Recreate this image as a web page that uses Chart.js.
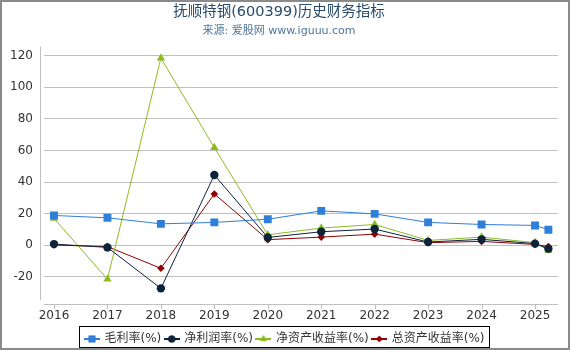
<!DOCTYPE html>
<html><head><meta charset="utf-8">
<script src="https://cdn.jsdelivr.net/npm/chart.js@4/dist/chart.umd.min.js"></script>
<style>html,body{margin:0;padding:0;background:#fff;}canvas{display:block;}</style>
</head><body>
<canvas id="c" width="570" height="350" style="width:570px;height:350px"></canvas>
<script>
const titleText = '抚顺特钢(600399)历史财务指标';
const subtitleText = '来源: 爱股网 www.iguuu.com';
const years = [2016, 2017, 2018, 2019, 2020, 2021, 2022, 2023, 2024, 2025, 2025.25];
const yearTicks = [2016, 2017, 2018, 2019, 2020, 2021, 2022, 2023, 2024, 2025];
const yTicks = [-20, 0, 20, 40, 60, 80, 100, 120];
const seriesNames = ['毛利率(%)', '净利润率(%)', '净资产收益率(%)', '总资产收益率(%)'];
const grossMargin = [18.9, 17.4, 13.6, 14.5, 16.5, 21.8, 19.9, 14.5, 13.2, 12.6, 9.9];
const netMargin = [0.8, -1.3, -27.2, 44.5, 5.0, 8.6, 10.3, 2.1, 3.8, 1.1, -2.1];
const roe = [17.0, -21.4, 118.4, 61.8, 6.7, 10.9, 13.2, 3.1, 5.2, 1.7, -3.1];
const roa = [0.2, -0.8, -14.5, 32.5, 3.6, 5.2, 7.1, 1.7, 2.5, 0.6, -0.8];

const colors = ['#2f7ed8', '#0d233a', '#8bbc21', '#910000'];
const styles = ['rect', 'circle', 'triangle', 'rectRot'];
const radii = [5.6, 4.2, 4.8, 3.8];
const values = [grossMargin, netMargin, roe, roa];

function legendSymbol(i) {
  const cv = document.createElement('canvas');
  cv.width = 16; cv.height = 12;
  const ctx = cv.getContext('2d');
  ctx.strokeStyle = colors[i];
  ctx.lineWidth = 2;
  ctx.beginPath(); ctx.moveTo(0, 6); ctx.lineTo(16, 6); ctx.stroke();
  ctx.fillStyle = colors[i];
  ctx.strokeStyle = colors[i];
  Chart.helpers.drawPoint(ctx, {pointStyle: styles[i], radius: radii[i] * 0.85, rotation: 0, borderWidth: 0}, 8, 6);
  ctx.fill();
  return cv;
}

const datasets = values.map((v, i) => ({
  label: seriesNames[i],
  data: years.map((x, k) => ({x: x, y: v[k]})),
  borderColor: colors[i],
  backgroundColor: colors[i],
  borderWidth: 1,
  pointStyle: styles[i],
  pointRadius: radii[i],
  pointBorderWidth: 0,
  pointHoverRadius: radii[i],
  tension: 0,
  fill: false
}));

const decor = {
  id: 'decor',
  afterLayout(chart) {
    const lg = chart.legend;
    const h = lg.bottom - lg.top;
    lg.top = 329; lg.bottom = 329 + h;
    lg.left += 6; lg.right += 6;
  },
  beforeDatasetsDraw(chart) {
    const ctx = chart.ctx;
    const a = chart.chartArea;
    const xs = chart.scales.x;
    ctx.save();
    ctx.strokeStyle = '#c0c0c0';
    ctx.lineWidth = 1;
    ctx.beginPath();
    ctx.moveTo(40.5, a.top); ctx.lineTo(40.5, a.bottom);
    ctx.moveTo(a.left, a.bottom + 4.5); ctx.lineTo(a.right, a.bottom + 4.5);
    yearTicks.forEach(t => {
      const px = Math.round(xs.getPixelForValue(t)) + 0.5;
      ctx.moveTo(px, a.bottom + 4); ctx.lineTo(px, a.bottom + 9);
    });
    ctx.stroke();
    ctx.restore();
  },
  afterDraw(chart) {
    const ctx = chart.ctx;
    const lg = chart.legend;
    const boxes = lg.legendHitBoxes;
    ctx.save();
    if (boxes && boxes.length) {
      let l = Infinity, r = -Infinity;
      boxes.forEach(b => { l = Math.min(l, b.left); r = Math.max(r, b.left + b.width); });
      ctx.strokeStyle = '#000';
      ctx.lineWidth = 1;
      ctx.strokeRect(Math.round(l) - 5.5, 326.5, Math.round(r - l) + 11, 21);
    }
    ctx.strokeStyle = '#8a8a8a';
    ctx.lineWidth = 2;
    ctx.strokeRect(1, 1, 568, 348);
    ctx.restore();
  }
};

new Chart(document.getElementById('c'), {
  type: 'line',
  data: {datasets: datasets},
  options: {
    responsive: false,
    devicePixelRatio: 1,
    animation: false,
    layout: {padding: {left: 0, right: 12, top: 0, bottom: 4}},
    plugins: {
      title: {
        display: true, text: titleText, color: '#274b6d',
        font: {family: 'DejaVu Sans, "Noto Sans CJK SC"', size: 14.5, weight: 'normal'},
        padding: {top: 4, bottom: 0}
      },
      subtitle: {
        display: true, text: subtitleText, color: '#4d759e',
        font: {family: 'DejaVu Sans, "Noto Sans CJK SC"', size: 11, weight: 'normal'},
        padding: {top: 3, bottom: 9}
      },
      legend: {
        position: 'bottom',
        labels: {
          usePointStyle: true,
          pointStyleWidth: 13,
          padding: 4,
          color: '#333',
          font: {family: 'DejaVu Sans, "Noto Sans CJK SC"', size: 12},
          generateLabels(chart) {
            return chart.data.datasets.map((d, i) => ({
              text: d.label, fillStyle: colors[i], strokeStyle: colors[i], lineWidth: 0,
              pointStyle: legendSymbol(i), datasetIndex: i, hidden: false, fontColor: '#333'
            }));
          }
        }
      },
      tooltip: {enabled: false}
    },
    scales: {
      x: {
        type: 'linear', min: 2015.813, max: 2025.43,
        grid: {display: false}, border: {display: false},
        afterBuildTicks(s) { s.ticks = yearTicks.map(v => ({value: v})); },
        afterFit(s) { s.height = 20; },
        ticks: {
          color: '#333', padding: 1, maxRotation: 0, autoSkip: false,
          font: {family: 'DejaVu Sans', size: 12},
          callback: v => String(v)
        }
      },
      y: {
        type: 'linear', min: -34.55, max: 125.65,
        grid: {color: '#c0c0c0', lineWidth: 1, drawTicks: false},
        border: {display: false},
        afterBuildTicks(s) { s.ticks = yTicks.map(v => ({value: v})); },
        afterFit(s) { s.width = 44; },
        ticks: {
          color: '#333', padding: 11,
          font: {family: 'DejaVu Sans', size: 12},
          callback: v => String(v)
        }
      }
    }
  },
  plugins: [decor]
});
</script>
</body></html>
